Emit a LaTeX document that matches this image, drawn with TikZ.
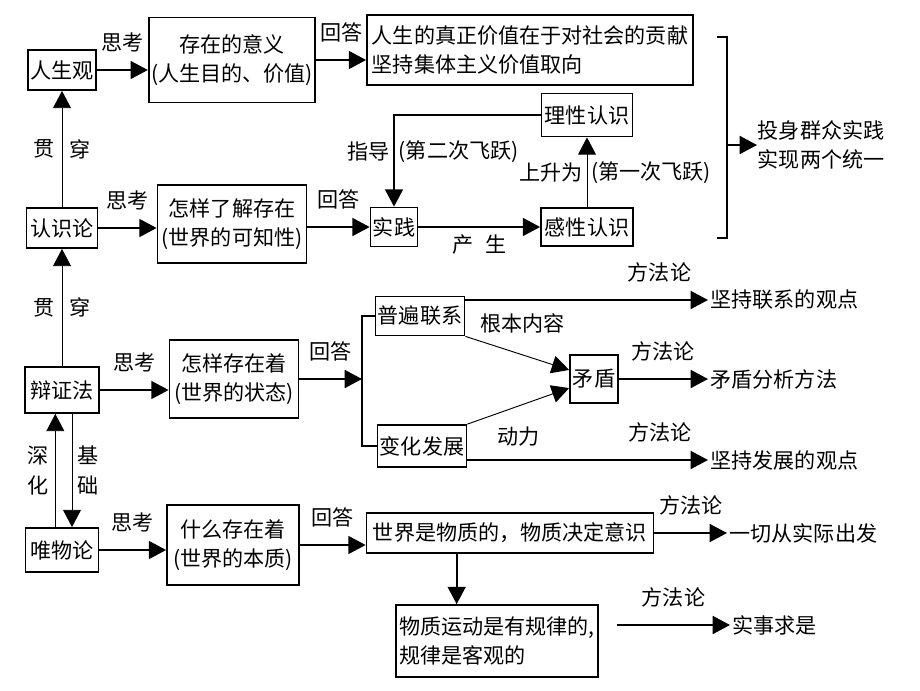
\documentclass[tikz,border=0pt]{standalone}
\usepackage{fontspec}
\setmainfont{Noto Sans CJK SC}
\usetikzlibrary{arrows.meta,positioning}

\begin{document}
\begin{tikzpicture}[x=0.3mm,y=-0.3mm,>={Triangle[length=5.2mm,width=5.4mm]},
    line width=1.5pt,font=\fontsize{18}{25}\selectfont,
    box/.style={draw,inner sep=2pt,align=center},
    txt/.style={inner sep=1.5pt,anchor=west,align=left},
    lbl/.style={above=5mm,inner sep=0pt},
    slim/.style={line width=0.8pt}]
    \useasboundingbox (0,0) rectangle (920,690);

    \node[box,minimum width=20.1mm,minimum height=12mm] (rsg) at (62,70) {人生观};
    \node[box,minimum width=46.5mm,minimum height=25.5mm] (yiyi) at (232,60) {存在的意义\\(人生目的、价值)};
    \node[box,align=left,minimum width=97.8mm,minimum height=21mm] (gongxian) at (530,50) {人生的真正价值在于对社会的贡献\\坚持集体主义价值取向};
    \node[box,minimum width=21.3mm,minimum height=12mm] (rsl) at (62,228) {认识论};
    \node[box,minimum width=44.7mm,minimum height=23.4mm] (liaojie) at (232,224) {怎样了解存在\\(世界的可知性)};
    \node[box,minimum width=13.5mm,minimum height=11.7mm] (sj) at (394,227) {实践};
    \node[box,minimum width=27.3mm,minimum height=12.9mm] (lx) at (587,115) {理性认识};
    \node[box,minimum width=27.6mm,minimum height=11.4mm] (gx) at (587,227) {感性认识};
    \node[txt,inner sep=0pt] (tsqz) at (757,145) {投身群众实践\\实现两个统一};

    \node[box,minimum width=22.2mm,minimum height=13.8mm] (bzf) at (62,390) {辩证法};
    \node[box,minimum width=38.7mm,minimum height=23.4mm] (zhuangtai) at (234,379) {怎样存在着\\(世界的状态)};
    \coordinate (fork) at (362,379);
    \node[box,minimum width=25.2mm,minimum height=11.7mm] (pb) at (420,316) {普遍联系};
    \node[box,minimum width=26.4mm,minimum height=12.6mm] (bh) at (422,446) {变化发展};
    \node[box,minimum width=14.4mm,minimum height=14.4mm] (md) at (594,379) {矛盾};
    \node[txt] (lianxi) at (708,300) {坚持联系的观点};
    \node[txt] (fenxi) at (708,379) {矛盾分析方法};
    \node[txt] (fazhan) at (708,460) {坚持发展的观点};

    \node[box,minimum width=21.9mm,minimum height=13.2mm] (wwl) at (62,550) {唯物论};
    \node[box,minimum width=39.6mm,minimum height=24mm] (benzhi) at (233,545) {什么存在着\\(世界的本质)};
    \node[box,minimum width=86.1mm,minimum height=12mm] (wz) at (510,533) {世界是物质的，物质决定意识};
    \node[box,align=left,minimum width=60.6mm,minimum height=21.6mm] (gl) at (497,641) {物质运动是有规律的,\\规律是客观的};
    \node[txt] (shiji) at (727,533) {一切从实际出发};
    \coordinate (glout) at (617,625);
    \node[txt] (qiushi) at (730,625) {实事求是};

    \coordinate (bt) at (717,37);
    \coordinate (bb) at (717,238);
    \coordinate (bm) at (727,145);

    \path[->] (rsg.east) edge node[lbl] {思考} (rsg.east -| yiyi.west);
    \path[->] (yiyi.east) edge node[lbl] {回答} (yiyi.east -| gongxian.west);
    \path[->,slim] (rsl.north) edge node[left=1mm] {贯} node[right=1mm] {穿} (rsg.south);
    \path[->] (rsl.east) edge node[lbl] {思考} (rsl.east -| liaojie.west);
    \path[->] (sj.west -| liaojie.east) edge node[lbl] {回答} (sj.west);
    \path[->] (sj) edge node[below=1mm] {产\hspace{3.6mm}生} (gx);
    \draw[->] (lx.west) -| node[pos=0.7,left=0pt] {指导} node[pos=0.7,right=0pt] {(第二次飞跃)} (sj.north);
    \path[->,slim] (gx.north) edge node[left=0pt] {上升为} node[right=0pt] {(第一次飞跃)} (lx.south);
    \draw (bt) -- ++(10,0) |- (bb);
    \path[->] (bm) edge (tsqz.west);

    \path[->,slim] (bzf.north) edge node[left=1mm] {贯} node[right=1mm] {穿} (rsl.south);
    \path[->] (bzf.east) edge node[lbl] {思考} (bzf.east -| zhuangtai.west);
    \path[->] (zhuangtai.east) edge node[lbl] {回答} (fork);
    \draw (pb.west) -| (fork) |- (bh.west);
    \path[->] (pb.east |- lianxi.west) edge node[lbl,pos=0.8] {方法论} (lianxi.west);
    \path[->,slim] (pb.south east) edge node[pos=0.55,above=6.3mm,inner sep=0pt] {根本内容} (md.160);
    \path[->,slim] (bh.north east) edge node[pos=0.5,below=6mm,inner sep=0pt] {动力} (md.200);
    \path[->] (md) edge node[lbl] {方法论} (fenxi);
    \path[->] (bh.east |- fazhan.west) edge node[lbl,pos=0.8] {方法论} (fazhan.west);

    \path[->,slim] ([xshift=-2mm]wwl.north) edge node[left=2mm,align=center,inner sep=0pt] {深\\化} ([xshift=-2mm]bzf.south);
    \path[->,slim] ([xshift=3mm]bzf.south) edge node[right=1.5mm,align=center,inner sep=0pt] {基\\础} ([xshift=3mm]wwl.north);
    \path[->] (wwl.east) edge node[lbl] {思考} (wwl.east -| benzhi.west);
    \path[->] (benzhi.east) edge node[lbl] {回答} (benzhi.east -| wz.west);
    \path[->] (wz.east) edge node[lbl] {方法论} (shiji.west);
    \path[->] ([xshift=-16mm]wz.south) edge ([xshift=-16mm]wz.south |- gl.north);
    \path[->] (glout) edge node[lbl] {方法论} (qiushi.west);
\end{tikzpicture}
\end{document}
